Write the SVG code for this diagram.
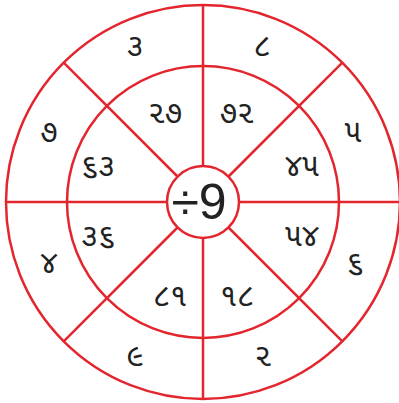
<svg xmlns="http://www.w3.org/2000/svg" width="399" height="403" viewBox="0 0 399 403">
<style>
.c{fill:none;stroke:#e3262e;stroke-width:2.5}
.s{stroke:#e3262e;stroke-width:2.5}
.t{font-family:"Noto Sans Gujarati","Lohit Gujarati","Noto Serif Gujarati","Shruti","Noto Sans",sans-serif;font-size:31px;fill:#222;text-anchor:middle;dominant-baseline:central}
.m{font-family:"Liberation Sans",Arial,sans-serif;font-size:50px;fill:#222;text-anchor:middle}
</style>
<rect width="399" height="403" fill="#fff"/>
<g id="rings">
<circle class="c" cx="203" cy="202" r="197"/>
<circle class="c" cx="203" cy="202" r="136"/>
</g>
<g id="connectors">
<line class="s" x1="203" y1="166" x2="203" y2="5"/>
<line class="s" x1="203" y1="238" x2="203" y2="399"/>
<line class="s" x1="167" y1="202" x2="6" y2="202"/>
<line class="s" x1="239" y1="202" x2="400" y2="202"/>
<line class="s" x1="177.5" y1="176.5" x2="63.7" y2="62.7"/>
<line class="s" x1="228.5" y1="176.5" x2="342.3" y2="62.7"/>
<line class="s" x1="177.5" y1="227.5" x2="63.7" y2="341.3"/>
<line class="s" x1="228.5" y1="227.5" x2="342.3" y2="341.3"/>
</g>
<g id="center">
<circle cx="203" cy="202" r="36" fill="#fff" stroke="#e3262e" stroke-width="2.5"/>
<text class="m" x="199" y="219">÷9</text>
</g>
<g id="outer">
<text class="t" x="135" y="48">૩</text>
<text class="t" x="262" y="48">૮</text>
<text class="t" x="353" y="134">૫</text>
<text class="t" x="355" y="265">૬</text>
<text class="t" x="263" y="358">૨</text>
<text class="t" x="135" y="358">૯</text>
<text class="t" x="49" y="265">૪</text>
<text class="t" x="49" y="134">૭</text>
</g>
<g id="inner">
<text class="t" x="165" y="115">૨૭</text>
<text class="t" x="237" y="115">૭૨</text>
<text class="t" x="302" y="168">૪૫</text>
<text class="t" x="302" y="238">૫૪</text>
<text class="t" x="237" y="298">૧૮</text>
<text class="t" x="170" y="298">૮૧</text>
<text class="t" x="98" y="238">૩૬</text>
<text class="t" x="98" y="168">૬૩</text>
</g>
</svg>
